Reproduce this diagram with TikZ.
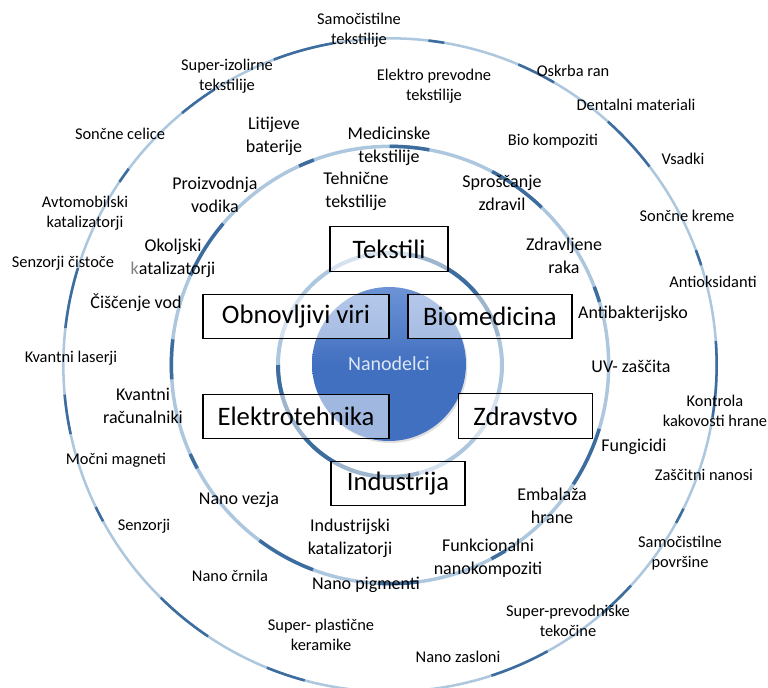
\documentclass[tikz,border=0pt]{standalone}
\usepackage{fontspec}
\setmainfont{Carlito}
\usetikzlibrary{shadows}
\definecolor{ringlight}{HTML}{ADC7DE}
\definecolor{ringdark}{HTML}{3D6C9E}
\definecolor{corefill}{HTML}{4270C0}
\definecolor{coretop}{HTML}{6D93D6}
\definecolor{coretext}{HTML}{DCE6F4}
\tikzset{
  small/.style={align=center, font=\fontsize{12.3}{15}\selectfont},
  mid/.style={align=center, font=\fontsize{13.5}{17}\selectfont},
  sector/.style={draw=black, line width=0.8pt, fill=white, fill opacity=0.5,
    text opacity=1, inner sep=0pt, minimum height=33.5pt,
    font=\fontsize{20}{24}\selectfont},
  streaks/.style={ringdark, line width=#1, dash pattern=on 30pt off 58pt on 12pt off 72pt on 46pt off 50pt}
}
\begin{document}
\begin{tikzpicture}[x=0.75pt, y=-0.75pt]
\useasboundingbox (0,0) rectangle (768,688);
\coordinate (c) at (390,365);
% rings (radii in pt: 327px, 219px, 112px)
\draw[ringlight, line width=1.9pt] (c) circle[radius=245pt];
\draw[streaks=1.9pt, dash phase=12pt] (c) circle[radius=245pt];
\draw[ringlight, line width=2.6pt] (c) circle[radius=164pt];
\draw[streaks=2.6pt, dash phase=40pt] (c) circle[radius=164pt];
\draw[ringlight, line width=3pt] (c) circle[radius=84pt];
\draw[ringdark, line width=3pt] ([shift={(180:84pt)}]c) arc[start angle=180, end angle=285, radius=84pt];
\draw[ringdark, line width=3pt] ([shift={(15:84pt)}]c) arc[start angle=15, end angle=80, radius=84pt];
% core
\node[circle, minimum size=115.5pt, inner sep=0pt, draw=none,
  top color=coretop, bottom color=corefill, middle color=corefill,
  drop shadow={opacity=0.25, shadow xshift=1pt, shadow yshift=-1.5pt},
  text=coretext, font=\fontsize{15}{18}\selectfont] (core) at (389,364) {Nanodelci};
% sectors
\node[sector, minimum width=88.5pt] (tekstili) at (389,249) {Tekstili};
\node[sector, minimum width=139.5pt] (obnovljivi) at (296,316.5) {Obnovljivi viri};
\node[sector, minimum width=123pt] (biomed) at (490,316.5) {Biomedicina};
\node[sector, minimum width=139.5pt] (elektro) at (296,416.5) {Elektrotehnika};
\node[sector, minimum width=101pt] (zdravstvo) at (525.5,416) {Zdravstvo};
\node[sector, minimum width=100.5pt] (industrija) at (398,483.5) {Industrija};
% middle ring labels
\node[mid] (litij) at (274,136) {Litijeve\\baterije};
\node[mid] (medtex) at (389,146) {Medicinske\\tekstilije};
\node[mid] (tehtex) at (356,191) {Tehnične\\tekstilije};
\node[mid] (vodik) at (215,195) {Proizvodnja\\vodika};
\node[mid] (zdravil) at (502,193) {Sproščanje\\zdravil};
\node[mid] (okolj) at (173,258) {Okoljski\\\textcolor{gray}{k}atalizatorji};
\node[mid] (vod) at (136,303) {Čiščenje vod};
\node[mid] (raka) at (564,256) {Zdravljene\\raka};
\node[mid] (antibak) at (633,314) {Antibakterijsko};
\node[mid] (uv) at (631,366) {UV- zaščita};
\node[mid] (kvracun) at (143,406) {Kvantni\\računalniki};
\node[mid] (fungi) at (634,447) {Fungicidi};
\node[mid] (vezja) at (239,500) {Nano vezja};
\node[mid] (embal) at (552,506) {Embalaža\\hrane};
\node[mid] (indkat) at (350,538) {Industrijski\\katalizatorji};
\node[mid] (funk) at (488,558) {Funkcionalni\\nanokompoziti};
\node[mid] (pigm) at (366,585) {Nano pigmenti};
% outer ring labels
\node[small] (samotex) at (359,30) {Samočistilne\\tekstilije};
\node[small] (izol) at (227,76) {Super-izolirne\\tekstilije};
\node[small] (elprev) at (434,86) {Elektro prevodne\\tekstilije};
\node[small] (oskrba) at (573,71) {Oskrba ran};
\node[small] (dental) at (636,105) {Dentalni materiali};
\node[small] (biokomp) at (553,141) {Bio kompoziti};
\node[small] (vsadki) at (683,159) {Vsadki};
\node[small] (kreme) at (687,216) {Sončne kreme};
\node[small] (antiox) at (713,282) {Antioksidanti};
\node[small] (celice) at (120,134) {Sončne celice};
\node[small] (avto) at (85,213) {Avtomobilski\\katalizatorji};
\node[small] (cistoc) at (63,263) {Senzorji čistoče};
\node[small] (laser) at (71,358) {Kvantni laserji};
\node[small] (magnet) at (116,460) {Močni magneti};
\node[small] (senz) at (144,526) {Senzorji};
\node[small] (crnila) at (230,576) {Nano črnila};
\node[small] (keram) at (321,635) {Super- plastične\\keramike};
\node[small] (zaslon) at (458,657) {Nano zasloni};
\node[small] (tekoc) at (568,621) {Super-prevodniške\\tekočine};
\node[small] (povrs) at (680,553) {Samočistilne\\površine};
\node[small] (nanosi) at (704,475) {Zaščitni nanosi};
\node[small] (hrana) at (715,411) {Kontrola\\kakovosti hrane};
\end{tikzpicture}
\end{document}
